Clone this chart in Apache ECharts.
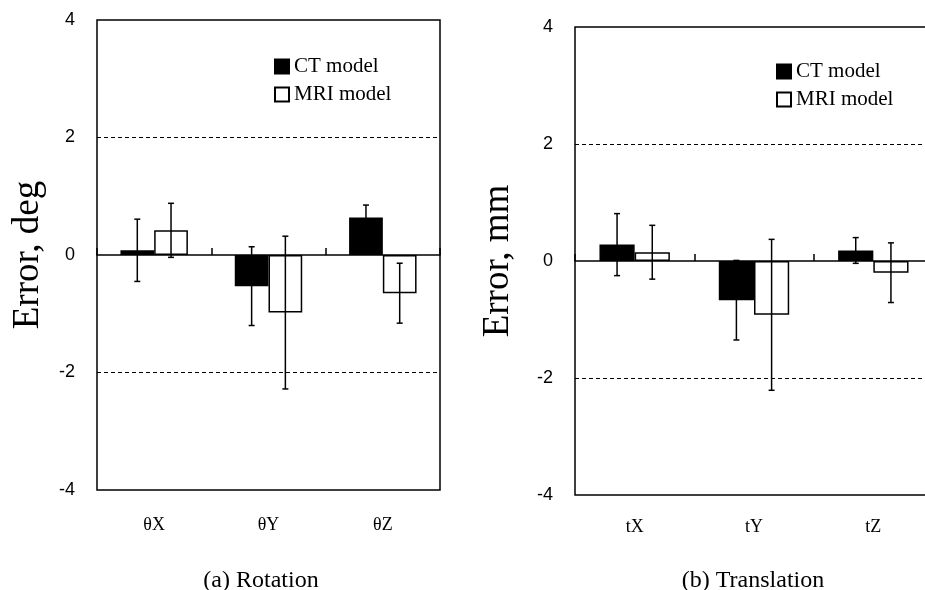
<!DOCTYPE html>
<html>
<head>
<meta charset="utf-8">
<script src="https://cdn.jsdelivr.net/npm/echarts@6/dist/echarts.min.js"></script>
<style>
html,body{margin:0;padding:0;background:#fff;overflow:hidden;}
#c{width:945px;height:590px;}
</style>
</head>
<body>
<div id="c"></div>
<script>
// ---- data ----
var rotCats = ['θX', 'θY', 'θZ'];
var rotCT = [0.08, -0.53, 0.64];
var rotCTsd = [0.53, 0.67, 0.21];
var rotMRI = [0.42, -0.98, -0.65];
var rotMRIsd = [0.46, 1.30, 0.51];

var transCats = ['tX', 'tY', 'tZ'];
var transCT = [0.28, -0.67, 0.18];
var transCTsd = [0.53, 0.68, 0.22];
var transMRI = [0.15, -0.92, -0.20];
var transMRIsd = [0.46, 1.29, 0.51];

var yTicks = [-4, -2, 0, 2, 4];
var refLines = [-2, 2];
var legendNames = ['CT model', 'MRI model'];
var panelTitles = ['(a) Rotation', '(b) Translation'];
var yNames = ['Error, deg', 'Error, mm'];

// ---- helpers ----
var BAR_FRAC = 0.295;
function errData(means, sds) {
  return means.map(function (m, i) { return [i, m - sds[i], m + sds[i]]; });
}
function errRender(sign) {
  return function (params, api) {
    var c = api.value(0);
    var pLo = api.coord([c, api.value(1)]);
    var pHi = api.coord([c, api.value(2)]);
    var bw = api.size([1, 0])[0] * BAR_FRAC;
    var x = pLo[0] + sign * bw / 2;
    var hw = 3;
    var st = { stroke: '#000', lineWidth: 1.5 };
    return {
      type: 'group',
      children: [
        { type: 'line', shape: { x1: x, y1: pHi[1], x2: x, y2: pLo[1] }, style: st },
        { type: 'line', shape: { x1: x - hw, y1: pHi[1], x2: x + hw, y2: pHi[1] }, style: st },
        { type: 'line', shape: { x1: x - hw, y1: pLo[1], x2: x + hw, y2: pLo[1] }, style: st }
      ]
    };
  };
}
var serif = 'Liberation Serif';
var sans = 'Liberation Sans';

function yAxisCfg(gi, name, gap) {
  return {
    type: 'value', gridIndex: gi, min: -4, max: 4, interval: 2,
    name: name, nameLocation: 'middle', nameRotate: 90, nameGap: gap,
    nameTextStyle: { fontFamily: serif, fontSize: 37, color: '#000' },
    axisLine: { show: false },
    axisTick: { show: false },
    axisLabel: { fontFamily: sans, fontSize: 18, color: '#000', margin: 22,
      formatter: function (v) { return yTicks.indexOf(v) >= 0 ? String(v) : ''; } },
    splitLine: { show: false }
  };
}
function xZeroCfg(gi, cats) {
  return {
    type: 'category', gridIndex: gi, data: cats, position: 'bottom',
    axisLine: { show: true, onZero: true, lineStyle: { color: '#000', width: 1.5 } },
    axisTick: { show: true, inside: true, length: 7, lineStyle: { color: '#000', width: 1.5 } },
    axisLabel: { show: false }
  };
}
function xLabelCfg(gi, cats, margin) {
  return {
    type: 'category', gridIndex: gi, data: cats, position: 'bottom',
    axisLine: { show: false, onZero: false },
    axisTick: { show: false },
    axisLabel: { fontFamily: serif, fontSize: 18, color: '#000', margin: margin }
  };
}
function barSeries(name, data, xi, yi, filled, withRef) {
  var s = {
    name: name, type: 'bar', xAxisIndex: xi, yAxisIndex: yi, data: data,
    barWidth: (BAR_FRAC * 100) + '%', barGap: '0%',
    itemStyle: { color: filled ? '#000' : '#fff', borderColor: '#000', borderWidth: 1.5 },
    z: 2
  };
  if (withRef) {
    s.markLine = {
      silent: true, symbol: ['none', 'none'], label: { show: false },
      lineStyle: { color: '#000', width: 1, type: [4, 3] },
      data: refLines.map(function (v) { return { yAxis: v }; })
    };
  }
  return s;
}
function errSeries(name, data, xi, yi, sign) {
  return {
    name: name, type: 'custom', xAxisIndex: xi, yAxisIndex: yi, data: data,
    renderItem: errRender(sign), z: 5, silent: true
  };
}
function legendCfg(left, top) {
  return {
    data: legendNames, orient: 'vertical', left: left, top: top,
    icon: 'rect', itemWidth: 14, itemHeight: 14, itemGap: 7,
    textStyle: { fontFamily: serif, fontSize: 21, color: '#000' },
    selectedMode: false
  };
}

var option = {
  backgroundColor: '#fff',
  animation: false,
  title: [
    { text: panelTitles[0], left: 256, top: 564, textAlign: 'center',
      textStyle: { fontFamily: serif, fontSize: 24, fontWeight: 'normal', color: '#000' } },
    { text: panelTitles[1], left: 748, top: 564, textAlign: 'center',
      textStyle: { fontFamily: serif, fontSize: 24, fontWeight: 'normal', color: '#000' } }
  ],
  legend: [legendCfg(269, 51), legendCfg(771, 56)],
  grid: [
    { left: 97, top: 20, width: 343, height: 470, show: true, borderColor: '#000', borderWidth: 1.5, backgroundColor: 'transparent' },
    { left: 575, top: 27, width: 358, height: 468, show: true, borderColor: '#000', borderWidth: 1.5, backgroundColor: 'transparent' }
  ],
  xAxis: [
    xZeroCfg(0, rotCats), xLabelCfg(0, rotCats, 26),
    xZeroCfg(1, transCats), xLabelCfg(1, transCats, 23)
  ],
  yAxis: [yAxisCfg(0, yNames[0], 50), yAxisCfg(1, yNames[1], 58)],
  series: [
    barSeries(legendNames[0], rotCT, 0, 0, true, true),
    barSeries(legendNames[1], rotMRI, 0, 0, false, false),
    errSeries('CT SD a', errData(rotCT, rotCTsd), 0, 0, -1),
    errSeries('MRI SD a', errData(rotMRI, rotMRIsd), 0, 0, 1),
    barSeries(legendNames[0], transCT, 2, 1, true, true),
    barSeries(legendNames[1], transMRI, 2, 1, false, false),
    errSeries('CT SD b', errData(transCT, transCTsd), 2, 1, -1),
    errSeries('MRI SD b', errData(transMRI, transMRIsd), 2, 1, 1)
  ]
};
var chart = echarts.init(document.getElementById('c'), null, { renderer: 'canvas' });
chart.setOption(option);
</script>
</body>
</html>
